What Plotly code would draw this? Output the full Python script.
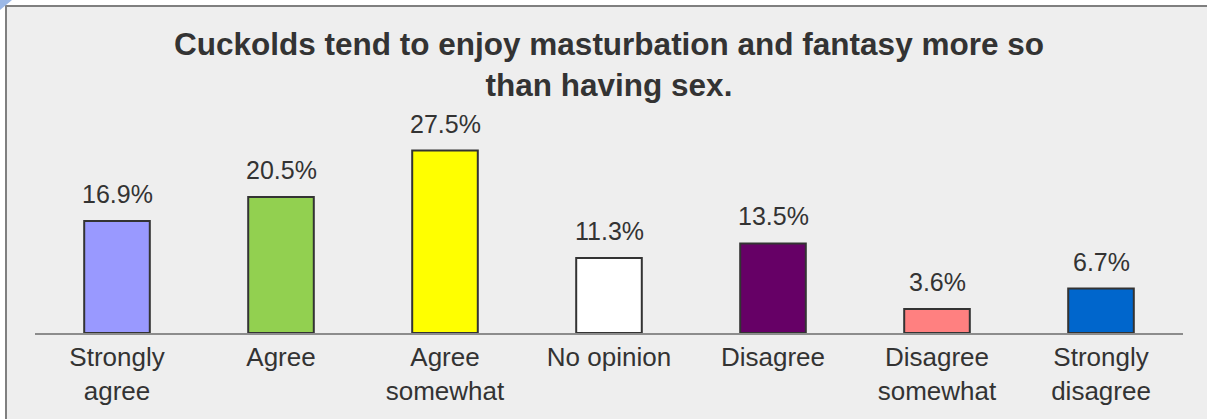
import plotly.graph_objects as go

categories = ["Strongly<br>agree", "Agree", "Agree<br>somewhat", "No opinion", "Disagree", "Disagree<br>somewhat", "Strongly<br>disagree"]
values = [16.9, 20.5, 27.5, 11.3, 13.5, 3.6, 6.7]
labels = ["16.9%", "20.5%", "27.5%", "11.3%", "13.5%", "3.6%", "6.7%"]
colors = ["#9999ff", "#92d050", "#ffff00", "#ffffff", "#660066", "#ff8080", "#0066cc"]
title = "Cuckolds tend to enjoy masturbation and fantasy more so<br>than having sex."

W, H = 1207, 419
L, R, T, B = 35, 24, 134, 86
pw = W - L - R
ph = H - T - B
FONT = "Liberation Sans, Arial"

def px(x):
    return (x - L) / pw

def py(y):
    return (H - B - y) / ph

fig = go.Figure()
fig.add_trace(go.Bar(
    x=categories, y=values,
    marker=dict(color=colors, line=dict(color="#333333", width=2)),
    width=0.4,
))
for c, v, t in zip(categories, values, labels):
    fig.add_annotation(x=c, y=v, text=t, showarrow=False, yanchor="bottom",
                       yshift=11, font=dict(family=FONT, size=25, color="#333333"))

fig.add_shape(type="rect", xref="paper", yref="paper",
              x0=px(6), x1=px(1260), y0=py(470), y1=py(6),
              fillcolor="#eeeeee", line=dict(color="#7f7f7f", width=2), layer="below")
fig.add_shape(type="path", xref="paper", yref="paper",
              path=f"M {px(0)},{py(0)} L {px(12)},{py(0)} L {px(0)},{py(10)} Z",
              fillcolor="#9bb8e6", line=dict(width=0), layer="above")

fig.update_layout(
    width=W, height=H,
    margin=dict(l=L, r=R, t=T, b=B),
    paper_bgcolor="#ffffff",
    plot_bgcolor="rgba(0,0,0,0)",
    showlegend=False,
    title=dict(text=title, x=0.5, xanchor="center", xref="paper", y=1 - 55 / H, yanchor="top",
               font=dict(family=FONT, size=31.5, color="#333333", weight="bold")),
    font=dict(family=FONT, size=26, color="#333333"),
)
fig.update_xaxes(showline=True, linecolor="#8c8c8c", linewidth=2, ticks="", showgrid=False,
                 tickfont=dict(size=26, color="#333333"))
fig.update_yaxes(range=[0, 30], visible=False, showgrid=False)

fig.write_html("out.html", config={"displayModeBar": False},
               post_script="document.body.style.margin='0';")
